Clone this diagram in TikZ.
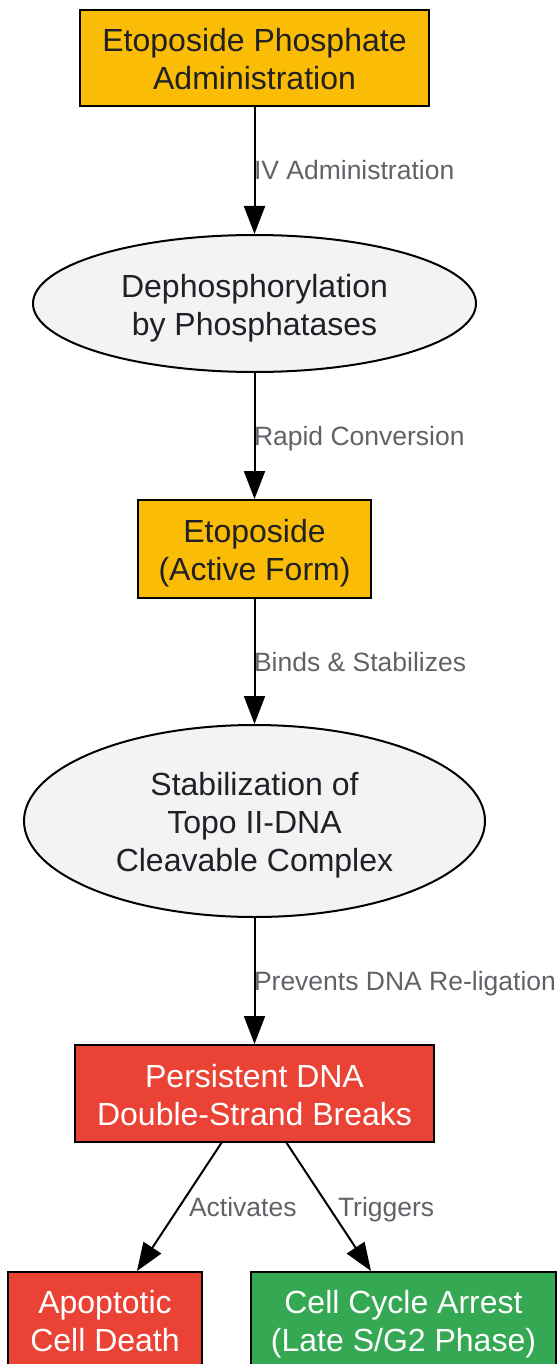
\documentclass[tikz,border=0pt]{standalone}
\usepackage{fontspec}
\setmainfont{Liberation Sans}
\usetikzlibrary{shapes.geometric,arrows.meta}
\definecolor{cyellow}{HTML}{FBBC05}
\definecolor{cgrey}{HTML}{F1F3F4}
\definecolor{cred}{HTML}{EA4335}
\definecolor{cgreen}{HTML}{34A853}
\definecolor{ctext}{HTML}{202124}
\definecolor{clabel}{HTML}{5F6368}
\tikzset{
  box/.style={rectangle, draw=black, line width=2pt, inner sep=0pt, align=center,
    text=ctext, font=\fontsize{32}{38}\selectfont, text depth=0pt, text height=63pt},
  oval/.style={ellipse, draw=black, line width=2pt, inner sep=0pt, align=center,
    fill=cgrey, text=ctext, font=\fontsize{32}{38}\selectfont, text depth=0pt, text height=63pt},
  three/.style={text height=101pt},
  conn/.style={draw=black, line width=2pt, -{Triangle[length=28pt,width=21pt]}},
  elabel/.style={anchor=west, inner sep=0pt, text=clabel, xshift=-1.5pt,
    text height=19pt, text depth=0pt, font=\fontsize{26.5}{30}\selectfont},
}
\begin{document}
\begin{tikzpicture}[x=1pt,y=-1pt]
\useasboundingbox (0,0) rectangle (558,1364);
\clip (0,0) rectangle (558,1364);
\node[box, fill=cyellow, minimum width=349pt, minimum height=96pt] (a) at (254.5,58) {Etoposide Phosphate\\Administration};
\node[oval, minimum width=443pt, minimum height=137pt] (b) at (254.5,303.5) {Dephosphorylation\\by Phosphatases};
\node[box, fill=cyellow, minimum width=233pt, minimum height=98pt] (c) at (254.5,549) {Etoposide\\(Active Form)};
\node[oval, three, minimum width=461pt, minimum height=192pt] (d) at (254.5,821) {Stabilization of\\Topo II-DNA\\Cleavable Complex};
\node[box, fill=cred, text=white, minimum width=359pt, minimum height=97pt] (e) at (254.5,1093.5) {Persistent DNA\\Double-Strand Breaks};
\node[box, fill=cred, text=white, minimum width=194pt, minimum height=96pt, anchor=north] (f) at (105,1271) {Apoptotic\\Cell Death};
\node[box, fill=cgreen, text=white, minimum width=305pt, minimum height=96pt, anchor=north] (g) at (403.5,1271) {Cell Cycle Arrest\\(Late S/G2 Phase)};
\draw[conn] (a.south) -- node[elabel] {IV Administration} (b.north);
\draw[conn] (b.south) -- node[elabel] {Rapid Conversion} (c.north);
\draw[conn] (c.south) -- node[elabel] {Binds \& Stabilizes} (d.north);
\draw[conn] (d.south) -- node[elabel] {Prevents DNA Re-ligation} (e.north);
\coordinate (e1) at (222,1142);
\coordinate (e2) at (286,1142);
\coordinate (f1) at (137,1271);
\coordinate (g1) at (371,1271);
\draw[conn] (e1) -- node[elabel, xshift=10pt] {Activates} (f1);
\draw[conn] (e2) -- node[elabel, xshift=10pt] {Triggers} (g1);
\end{tikzpicture}
\end{document}
